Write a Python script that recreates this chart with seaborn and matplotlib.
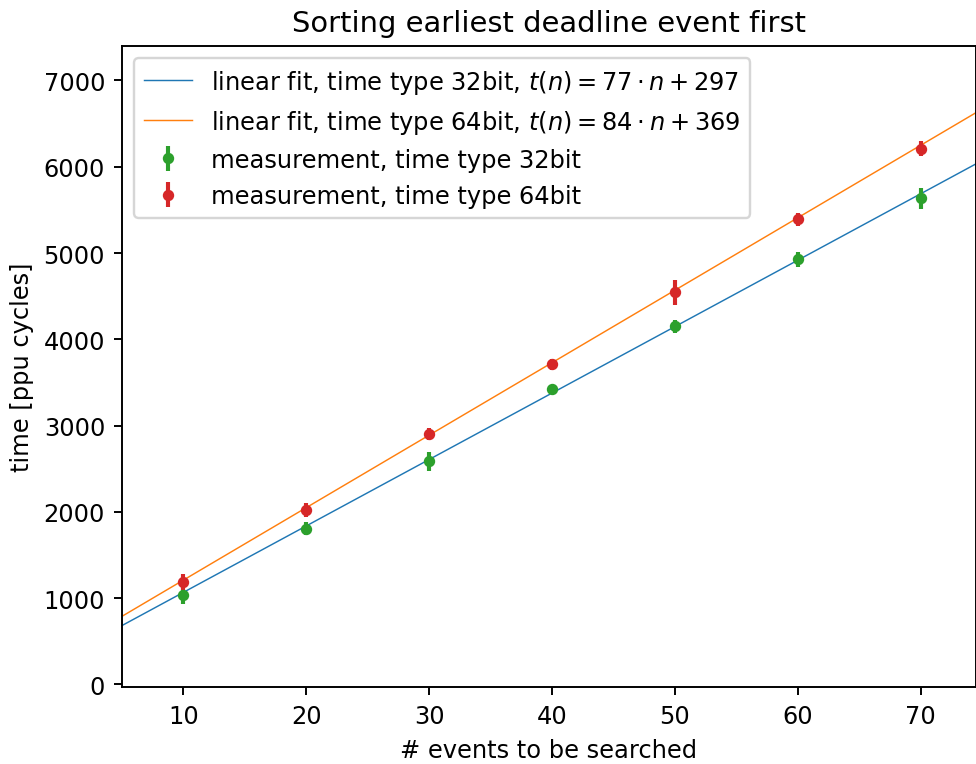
import numpy as np
import matplotlib
matplotlib.use("Agg")
import matplotlib.pyplot as plt
import seaborn as sns

# ------------------------------
# data
# ------------------------------
n_events = [10, 20, 30, 40, 50, 60, 70]

t32_mean = [1031, 1804, 2588, 3419, 4152, 4925, 5632]
t32_err = [105, 75, 110, 40, 75, 85, 120]

t64_mean = [1190, 2020, 2897, 3708, 4546, 5389, 6208]
t64_err = [95, 80, 70, 65, 145, 75, 85]

fit_slopes = [77, 84]
fit_offsets = [297, 369]
fit_labels = ["32bit", "64bit"]

# ------------------------------
# figure (plain matplotlib look, scaled up via dpi)
# ------------------------------
DPI = 174
plt.rcParams["font.family"] = ["DejaVu Sans"]
plt.rcParams["mathtext.fontset"] = "dejavusans"

fig = plt.figure(figsize=(976 / DPI, 765 / DPI), dpi=DPI)
ax = fig.add_axes([0.125, 0.1007, 0.875, 0.8379])

x_lo, x_hi = 5, 74.5
x_fit = np.array([x_lo, x_hi])
for slope, off, lab, col in zip(fit_slopes, fit_offsets, fit_labels, ["C0", "C1"]):
    sns.lineplot(x=x_fit, y=slope * x_fit + off, ax=ax, color=col, lw=0.6,
                 label=rf"linear fit, time type {lab}, $t(n) = {slope} \cdot n + {off}$")

ax.errorbar(n_events, t32_mean, yerr=t32_err, fmt="o", color="C2", ms=3.7,
            elinewidth=1.7, label="measurement, time type 32bit")
ax.errorbar(n_events, t64_mean, yerr=t64_err, fmt="o", color="C3", ms=3.7,
            elinewidth=1.7, label="measurement, time type 64bit")

ax.set_xlim(x_lo, x_hi)
ax.set_ylim(-30, 7400)
ax.set_xticks([10, 20, 30, 40, 50, 60, 70])
ax.set_yticks(range(0, 7001, 1000))

ax.set_xlabel("# events to be searched")
ax.set_ylabel("time [ppu cycles]")
ax.set_title("Sorting earliest deadline event first")

ax.legend(loc="upper left")

plt.savefig("out.png", dpi=DPI)
